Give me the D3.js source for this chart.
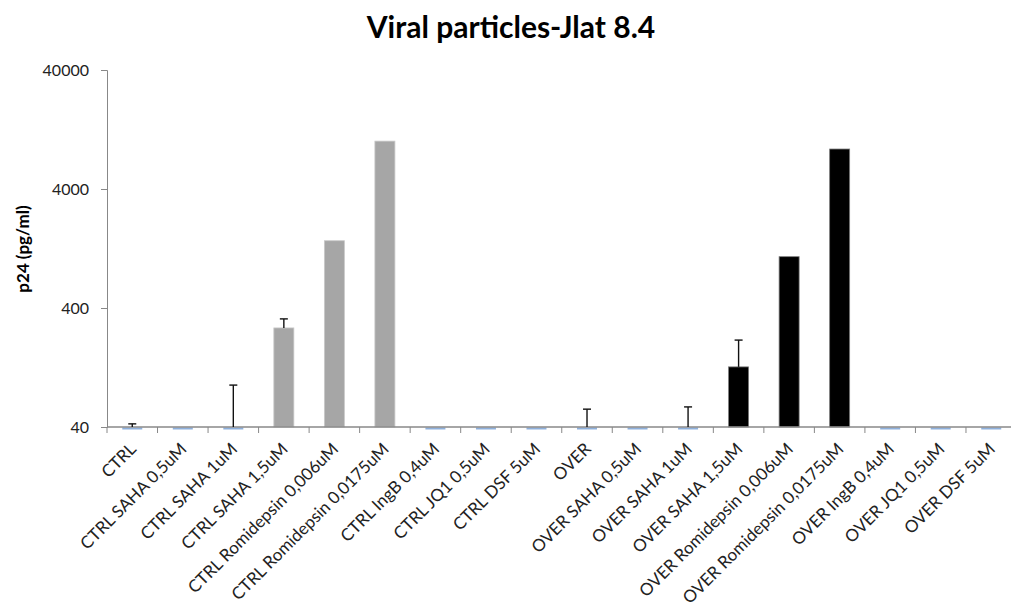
<!DOCTYPE html>
<html><head><meta charset="utf-8">
<script src="https://cdn.jsdelivr.net/npm/d3@7/dist/d3.min.js"></script>
<style>body{margin:0;background:#fff}svg{display:block}</style>
</head><body>
<svg id="c" width="1011" height="614"></svg>
<script>
const categories = ["CTRL","CTRL SAHA 0,5uM","CTRL SAHA 1uM","CTRL SAHA 1,5uM","CTRL Romidepsin 0,006uM","CTRL Romidepsin 0,0175uM","CTRL IngB 0,4uM","CTRL JQ1 0,5uM","CTRL DSF 5uM","OVER","OVER SAHA 0,5uM","OVER SAHA 1uM","OVER SAHA 1,5uM","OVER Romidepsin 0,006uM","OVER Romidepsin 0,0175uM","OVER IngB 0,4uM","OVER JQ1 0,5uM","OVER DSF 5uM"];
// p24 values (pg/ml); values at or below 40 sit on the axis floor
const values = [38,38,38,272,1470,10100,38,38,38,38,38,38,128,1080,8670,38,38,38];
// upper error bar ends (pg/ml); null = none
const errorTops = [42.5,null,90,324,null,null,null,null,null,56.5,null,59,215,null,null,null,null,null];
const groups = ["CTRL","CTRL","CTRL","CTRL","CTRL","CTRL","CTRL","CTRL","CTRL","OVER","OVER","OVER","OVER","OVER","OVER","OVER","OVER","OVER"];
const yTicks = [40,400,4000,40000];

const svg = d3.select("#c");
const x = d3.scaleBand().domain(categories).range([107,1016.5]).paddingInner(0).paddingOuter(0);
const y = d3.scaleLog().domain([40,40000]).range([427,70]);
const barW = 20;
const axisCol = "#888";
const font = "Lato, 'Open Sans', sans-serif";

// bars
const data = categories.map((c,i)=>({c,v:values[i],e:errorTops[i],g:groups[i]}));
svg.append("g").selectAll("rect").data(data.filter(d=>d.v>40)).join("rect")
  .attr("x",d=>x(d.c)+x.bandwidth()/2-barW/2)
  .attr("y",d=>y(d.v))
  .attr("width",barW)
  .attr("height",d=>y(40)-y(d.v))
  .attr("fill",d=>d.g==="CTRL"?"#a6a6a6":"#000")
  .attr("stroke",d=>d.g==="CTRL"?"#c8c8c8":"#7a7a7a")
  .attr("stroke-width",0.8);

// floor dashes for values at minimum
svg.append("g").selectAll("line").data(data.filter(d=>d.v<=40)).join("line")
  .attr("x1",d=>x(d.c)+x.bandwidth()/2-barW/2)
  .attr("x2",d=>x(d.c)+x.bandwidth()/2+barW/2)
  .attr("y1",y(40)+1.5).attr("y2",y(40)+1.5)
  .attr("stroke","#8eb0dc").attr("stroke-width",2);

// axes
const yAxis = d3.axisLeft(y).tickValues(yTicks).tickFormat(d3.format("d")).tickSize(6).tickPadding(12);
const gy = svg.append("g").attr("transform","translate(107,0)").call(yAxis);
gy.select(".domain").attr("stroke",axisCol);
gy.selectAll(".tick line").attr("stroke",axisCol);
gy.selectAll(".tick text").attr("font-family",font).attr("font-size",16).attr("fill","#222");

const gx = svg.append("g").attr("transform","translate(0,427)");
gx.append("line").attr("x1",107).attr("x2",1016.5).attr("stroke",axisCol).attr("stroke-width",1.5);
gx.selectAll("line.t").data(d3.range(categories.length+1)).join("line").attr("class","t")
  .attr("x1",i=>107+i*x.bandwidth()).attr("x2",i=>107+i*x.bandwidth())
  .attr("y1",0).attr("y2",6).attr("stroke",axisCol);
gx.selectAll("text").data(categories).join("text")
  .attr("transform",d=>`translate(${x(d)+x.bandwidth()/2+5},${23}) rotate(-45)`)
  .attr("text-anchor","end")
  .attr("font-family",font).attr("font-size",17).attr("fill","#222")
  .text(d=>d);

// error bars
const eb = svg.append("g").attr("stroke","#111").attr("stroke-width",1.4);
data.filter(d=>d.e!=null).forEach(d=>{
  const cx = x(d.c)+x.bandwidth()/2;
  const base = d.v>40 ? y(d.v) : y(40);
  eb.append("line").attr("x1",cx).attr("x2",cx).attr("y1",base).attr("y2",y(d.e));
  eb.append("line").attr("x1",cx-4).attr("x2",cx+4).attr("y1",y(d.e)).attr("y2",y(d.e));
});

// title
svg.append("text").attr("x",511).attr("y",38).attr("text-anchor","middle")
  .attr("font-family",font).attr("font-weight","bold").attr("font-size",30)
  .attr("fill","#000").text("Viral particles-Jlat 8.4");

// y label
svg.append("text").attr("transform","translate(29,249) rotate(-90)").attr("text-anchor","middle")
  .attr("font-family",font).attr("font-weight","bold").attr("font-size",17)
  .attr("fill","#000").text("p24 (pg/ml)");
</script>
</body></html>
